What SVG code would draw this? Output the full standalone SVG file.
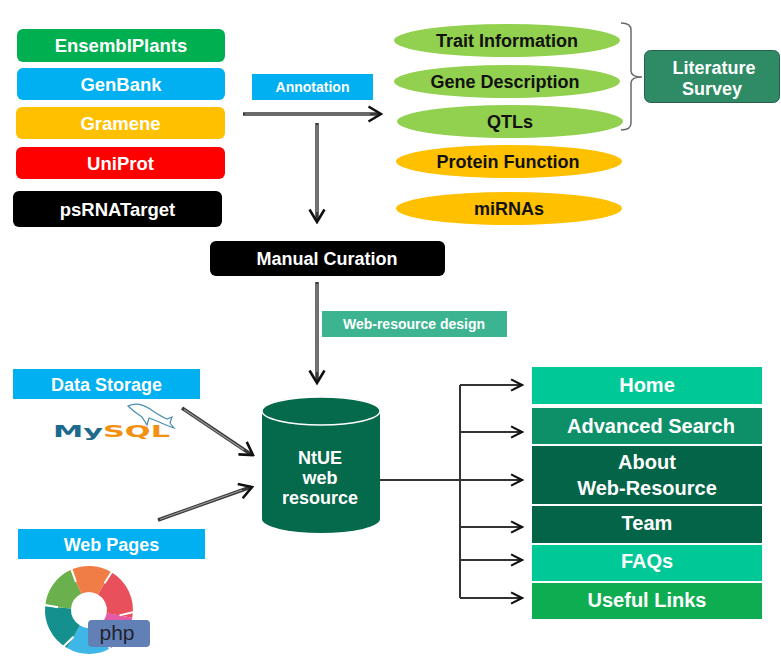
<svg xmlns="http://www.w3.org/2000/svg" width="781" height="665" viewBox="0 0 781 665">
<defs>
<style>
.t{font-family:"Liberation Sans",Arial,sans-serif;font-weight:bold;text-anchor:middle}
.w{fill:#ffffff}
.k{fill:#111111}
.src{stroke:none}
.ell{stroke:none}
.shaft{fill:none;stroke:#3a3a3a;stroke-width:3.5}
.core{fill:none;stroke:#9a9a9a;stroke-width:1.2}
.thin{fill:none;stroke:#333333;stroke-width:2}
.menu{stroke:none}
</style>
<marker id="ah" viewBox="0 0 16 18" refX="14" refY="9" markerWidth="16" markerHeight="18" markerUnits="userSpaceOnUse" orient="auto">
<path d="M1.5,1.5 L14,9 L1.5,16.5" fill="none" stroke="#111" stroke-width="2.6"/>
</marker>
<marker id="ah2" viewBox="0 0 16 16" refX="14" refY="8" markerWidth="14" markerHeight="14" markerUnits="userSpaceOnUse" orient="auto">
<path d="M1.5,1.5 L14,8 L1.5,14.5" fill="none" stroke="#111" stroke-width="2.4"/>
</marker>
</defs>
<rect width="781" height="665" fill="#ffffff"/>

<g id="connectors">
<path class="shaft" d="M243,114 L380,114"/>
<path class="core" d="M245,114 L370,114"/>
<path class="shaft" d="M317,123 L317,221"/>
<path class="core" d="M317,125 L317,212"/>
<path class="shaft" d="M317,282 L317,382"/>
<path class="core" d="M317,284 L317,372"/>
<path class="shaft" d="M182,408 L252,455"/>
<path class="core" d="M184,409.5 L244,450"/>
<path class="shaft" d="M158,520 L251,487"/>
<path class="core" d="M160,519.3 L242,490"/>
<path d="M243,114 L381,114" fill="none" stroke="none" marker-end="url(#ah)"/>
<path d="M317,123 L317,222" fill="none" stroke="none" marker-end="url(#ah)"/>
<path d="M317,282 L317,383" fill="none" stroke="none" marker-end="url(#ah)"/>
<path d="M182,408 L253,455" fill="none" stroke="none" marker-end="url(#ah)"/>
<path d="M158,520 L252,487" fill="none" stroke="none" marker-end="url(#ah)"/>
<path class="thin" d="M380,480 L460,480"/>
<path class="thin" d="M460,385 L460,598"/>
<path class="thin" d="M460,385 L522,385" marker-end="url(#ah2)"/>
<path class="thin" d="M460,432 L522,432" marker-end="url(#ah2)"/>
<path class="thin" d="M460,480 L522,480" marker-end="url(#ah2)"/>
<path class="thin" d="M460,527 L522,527" marker-end="url(#ah2)"/>
<path class="thin" d="M460,560 L522,560" marker-end="url(#ah2)"/>
<path class="thin" d="M460,598 L522,598" marker-end="url(#ah2)"/>
<path d="M621,23 Q631,23 631,30 L631,71 Q631,77 642,77 Q631,77 631,83 L631,123 Q631,130 621,130" fill="none" stroke="#6a6a6a" stroke-width="1.5"/>
</g>

<g id="ensemblplants"><rect class="src" x="17" y="29" width="208" height="33" rx="6" fill="#00b050"/><text class="t w" x="121" y="52" font-size="18.5">EnsemblPlants</text></g>
<g id="genbank"><rect class="src" x="17" y="68" width="208" height="32" rx="6" fill="#00b0f0"/><text class="t w" x="121" y="90.5" font-size="18.5">GenBank</text></g>
<g id="gramene"><rect class="src" x="16" y="107" width="209" height="32" rx="6" fill="#ffc000"/><text class="t w" x="120.5" y="129.5" font-size="18.5">Gramene</text></g>
<g id="uniprot"><rect class="src" x="16" y="147" width="209" height="32" rx="6" fill="#ff0000"/><text class="t w" x="120.5" y="169.5" font-size="18.5">UniProt</text></g>
<g id="psrnatarget"><rect class="src" x="13" y="191" width="209" height="36" rx="6" fill="#000000"/><text class="t w" x="117.5" y="215.5" font-size="18.5">psRNATarget</text></g>

<g id="annotation"><rect x="252" y="74" width="121" height="26" fill="#00b0f0"/><text class="t w" x="312.5" y="92" font-size="14">Annotation</text></g>

<g id="trait-information"><ellipse class="ell" cx="507" cy="40.5" rx="113" ry="16.5" fill="#92d050"/><text class="t k" x="507" y="47" font-size="18">Trait Information</text></g>
<g id="gene-description"><ellipse class="ell" cx="507" cy="81.5" rx="113" ry="16.5" fill="#92d050"/><text class="t k" x="505" y="88" font-size="18">Gene Description</text></g>
<g id="qtls"><ellipse class="ell" cx="510" cy="121.5" rx="113" ry="16.5" fill="#92d050"/><text class="t k" x="510" y="128" font-size="18">QTLs</text></g>
<g id="protein-function"><ellipse class="ell" cx="509" cy="161.5" rx="113" ry="16.5" fill="#ffc000"/><text class="t k" x="508" y="168" font-size="18">Protein Function</text></g>
<g id="mirnas"><ellipse class="ell" cx="509" cy="208.5" rx="113" ry="16.5" fill="#ffc000"/><text class="t k" x="509" y="215" font-size="18">miRNAs</text></g>

<g id="literature-survey"><rect x="644.5" y="50.5" width="135" height="52" rx="6" fill="#2e8b65" stroke="#2a5e48" stroke-width="1"/><text class="t w" x="714" y="74" font-size="18">Literature</text><text class="t w" x="712" y="95" font-size="18">Survey</text></g>

<g id="manual-curation"><rect x="210" y="241" width="235" height="35" rx="6" fill="#000000"/><text class="t w" x="327" y="264.5" font-size="18">Manual Curation</text></g>

<g id="web-resource-design"><rect x="322" y="311" width="185" height="26" fill="#3cb391"/><text class="t w" x="414" y="329" font-size="14">Web-resource design</text></g>

<g id="data-storage"><rect x="13" y="369" width="187" height="30" fill="#00b0f0"/><text class="t w" x="106.5" y="390.5" font-size="18">Data Storage</text></g>
<g id="mysql-logo">
<path d="M128,406 Q138,401 150,409 Q160,416 167,419 L172,417 L170,423 L174,428 L166,425 Q157,421 149,418 L147,425 L142,417 Q134,412 128,406 Z" fill="none" stroke="#4a8fb0" stroke-width="1.2"/>
<text x="53" y="437" font-family="'DejaVu Sans',Verdana,sans-serif" font-weight="bold" font-size="16" textLength="117" lengthAdjust="spacingAndGlyphs"><tspan fill="#1e6a8d">My</tspan><tspan fill="#f29111">SQL</tspan></text>
</g>

<g id="ntue-web-resource">
<path d="M262,411 L262,519 A59,14 0 0 0 380,519 L380,411 Z" fill="#05694b"/>
<ellipse cx="321" cy="411" rx="59" ry="14" fill="#05694b" stroke="#ffffff" stroke-width="1.5"/>
<text class="t w" x="320" y="464" font-size="18">NtUE</text>
<text class="t w" x="320" y="484" font-size="18">web</text>
<text class="t w" x="320" y="504" font-size="18">resource</text>
</g>

<g id="web-pages"><rect x="18" y="529" width="187" height="30" fill="#00b0f0"/><text class="t w" x="111.5" y="550.5" font-size="18">Web Pages</text></g>
<g id="php-logo">
<path d="M104.5,583.2 A31,31 0 0 1 119.5,615.4" fill="none" stroke="#e8505b" stroke-width="26"/>
<path d="M119.5,615.4 A31,31 0 0 1 104.5,636.8" fill="none" stroke="#e55aa6" stroke-width="26"/>
<path d="M104.5,636.8 A31,31 0 0 1 73.5,636.8" fill="none" stroke="#3fb6e8" stroke-width="26"/>
<path d="M73.5,636.8 A31,31 0 0 1 58.1,607.3" fill="none" stroke="#14918f" stroke-width="26"/>
<path d="M58.1,607.3 A31,31 0 0 1 75.9,581.9" fill="none" stroke="#6ab04c" stroke-width="26"/>
<path d="M75.9,581.9 A31,31 0 0 1 104.5,583.2" fill="none" stroke="#ef7d45" stroke-width="26"/>
<path d="M104.5,583.2 L113,570 M119.5,615.4 L134,612 M104.5,636.8 L111,651 M73.5,636.8 L63,647 M58.1,607.3 L45,605 M75.9,581.9 L71,568" stroke="#ffffff" stroke-width="2"/>
<rect x="88" y="620" width="62" height="27" rx="4" fill="#6181b6"/>
<text x="117" y="640" font-family="'Liberation Sans',Arial,sans-serif" font-size="21" text-anchor="middle" fill="#23232f">php</text>
</g>

<g id="home"><rect class="menu" x="532" y="367" width="230" height="37" fill="#00c896"/><text class="t w" x="647" y="392" font-size="20">Home</text></g>
<g id="advanced-search"><rect class="menu" x="532" y="408" width="230" height="36" fill="#0d9068"/><text class="t w" x="651" y="433" font-size="20">Advanced Search</text></g>
<g id="about-web-resource"><rect class="menu" x="532" y="446" width="230" height="58" fill="#046447"/><text class="t w" x="647" y="469" font-size="20">About</text><text class="t w" x="647" y="495" font-size="20">Web-Resource</text></g>
<g id="team"><rect class="menu" x="532" y="506" width="230" height="37" fill="#046447"/><text class="t w" x="647" y="530" font-size="20">Team</text></g>
<g id="faqs"><rect class="menu" x="532" y="545" width="230" height="36" fill="#00c896"/><text class="t w" x="647" y="568" font-size="20">FAQs</text></g>
<g id="useful-links"><rect class="menu" x="532" y="583" width="230" height="36" fill="#0fad52"/><text class="t w" x="647" y="607" font-size="20">Useful Links</text></g>
</svg>
